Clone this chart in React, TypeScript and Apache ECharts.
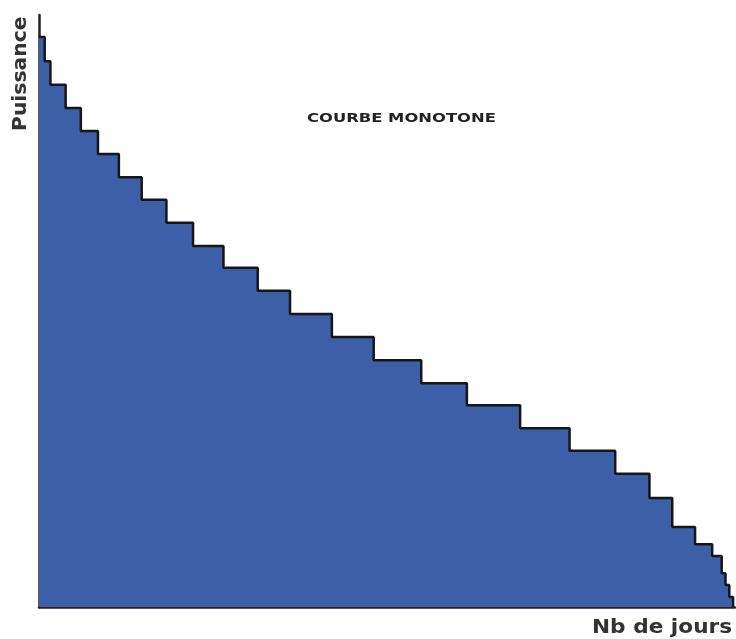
import React, { useEffect, useRef } from "react";
import * as echarts from "echarts";

// Step start (days) and power level (%) of each plateau
const dayStarts = [0, 3, 6, 14, 22, 31, 42, 54, 67, 81, 97, 115, 132, 154, 176, 201, 225, 253, 279, 303, 321, 333, 345, 354, 359, 361, 363, 365];
const powerLevels = [96.3, 92.2, 88.2, 84.3, 80.4, 76.5, 72.6, 68.8, 64.9, 61.0, 57.3, 53.4, 49.5, 45.6, 41.7, 37.8, 34.1, 30.2, 26.4, 22.5, 18.4, 13.5, 10.6, 8.6, 5.7, 3.7, 1.7, 0];
const titleText = "COURBE MONOTONE";
const xName = "Nb de jours";
const yName = "Puissance";

export default function App() {
  const ref = useRef<HTMLDivElement>(null);
  useEffect(() => {
    if (!ref.current) return;
    const chart = echarts.init(ref.current, null, { renderer: "svg" });
    const data = dayStarts.map((d, i) => [d, powerLevels[i]]);
    chart.setOption({
      animation: false,
      grid: { left: 39, top: 15, width: 696, height: 592 },
      xAxis: {
        type: "value",
        min: 0,
        max: 366,
        axisLine: { show: true, onZero: false, lineStyle: { color: "#222", width: 2.5 } },
        axisTick: { show: false },
        axisLabel: { show: false },
        splitLine: { show: false },
      },
      yAxis: {
        type: "value",
        min: 0,
        max: 100,
        axisLine: { show: true, onZero: false, lineStyle: { color: "#222", width: 2.5 } },
        axisTick: { show: false },
        axisLabel: { show: false },
        splitLine: { show: false },
      },
      series: [
        {
          type: "line",
          step: "end",
          data,
          symbol: "none",
          clip: false,
          lineStyle: { color: "#161616", width: 2.5 },
          areaStyle: { color: "#3d5fa7", opacity: 1 },
        },
      ],
      graphic: [
        {
          type: "text",
          x: 307,
          y: 111,
          scaleX: 1.26,
          style: { text: titleText, font: 'bold 13px "DejaVu Sans"', fill: "#222" },
        },
        {
          type: "text",
          x: 592,
          y: 617,
          scaleX: 1.14,
          style: { text: xName, font: 'bold 19px "DejaVu Sans"', fill: "#333" },
        },
        {
          type: "text",
          x: 10,
          y: 131,
          rotation: Math.PI / 2,
          scaleX: 1.07,
          style: { text: yName, font: 'bold 19px "DejaVu Sans"', fill: "#333" },
        },
      ],
    });
    return () => chart.dispose();
  }, []);
  return (
    <div
      ref={ref}
      style={{ position: "fixed", left: 0, top: 0, width: 736, height: 639 }}
    />
  );
}
